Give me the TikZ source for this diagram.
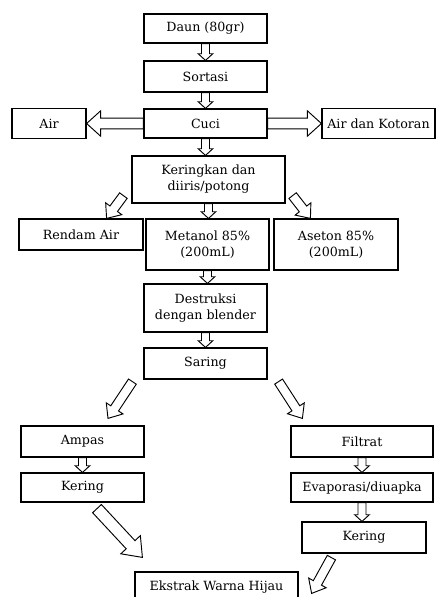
\documentclass[tikz,border=0pt]{standalone}
\usepackage{fontspec}
\setmainfont{DejaVu Serif}
\usetikzlibrary{calc}

\begin{document}
\begin{tikzpicture}[x=0.75pt, y=-0.75pt,
  box/.style={draw, line width=0.9pt, minimum width=92.25pt, minimum height=23.25pt,
              inner sep=1pt, align=center, font=\fontsize{9.5}{12}\selectfont},
  blk/.style n args={3}{draw, line width=0.7pt, fill=white, to path={
      let \p1=($(\tikztotarget)!#3!(\tikztostart)$) in
      ($(\tikztostart)!#1!90:(\tikztotarget)$) -- ($(\p1)!#1!90:(\tikztotarget)$)
      -- ($(\p1)!#2!90:(\tikztotarget)$) -- (\tikztotarget)
      -- ($(\p1)!#2!-90:(\tikztotarget)$) -- ($(\p1)!#1!-90:(\tikztotarget)$)
      -- ($(\tikztostart)!#1!-90:(\tikztotarget)$) -- cycle}},
  varr/.style={blk={3pt}{5.5pt}{5pt}},
  harr/.style={blk={4pt}{9.5pt}{10.5pt}},
  darr/.style={blk={3.5pt}{7.5pt}{9pt}},
  barr/.style={blk={4.5pt}{10pt}{13pt}}]
\useasboundingbox (0,0) rectangle (436,597);
% main column
\node[box, minimum height=21.75pt] (daun) at (205.5,28.5) {Daun (80gr)};
\node[box] (sort) at (205.5,76.5) {Sortasi};
\node[box, minimum height=21.75pt] (cuci) at (205.5,123.5) {Cuci};
\node[box, minimum width=55.5pt, minimum height=22.5pt] (air) at (49,123.5) {Air};
\node[box, minimum width=84.75pt, minimum height=22.5pt] (kotor) at (378.5,123.5) {Air dan Kotoran};
\node[box, minimum width=114.75pt, minimum height=35.25pt] (kering) at (208.5,179.5) {Keringkan dan\\ diiris/potong};
\node[box, minimum width=93pt] (rendam) at (81,234.5) {Rendam Air};
\node[box, minimum height=38.25pt] (metanol) at (207.5,244.5) {Metanol 85\%\\ (200mL)};
\node[box, minimum width=93pt, minimum height=38.25pt] (aseton) at (336,244.5) {Aseton 85\%\\ (200mL)};
\node[box, minimum height=36pt] (destr) at (205.5,308) {Destruksi\\ dengan blender};
\node[box] (saring) at (205.5,363.5) {Saring};
% two branches
\node[box] (ampas) at (82.5,441.5) {Ampas};
\node[box, minimum height=21.75pt] (keringl) at (82.5,487.5) {Kering};
\node[box, minimum width=106.5pt] (filtrat) at (362,441.5) {Filtrat};
\node[box, minimum width=106.5pt, minimum height=21.75pt] (evap) at (362,487.5) {Evaporasi/diuapka};
\node[box, minimum width=93pt] (keringr) at (364,537.5) {Kering};
\node[box, minimum width=122.25pt] (ekstrak) at (216.5,587.5) {Ekstrak Warna Hijau};
% free ends of the slanted arrows
\coordinate (kr1) at ($(kering.south west)+(-8,-8)$);
\coordinate (kr2) at ($(rendam.north east)+(-37,0)$);
\coordinate (ka1) at ($(kering.south east)+(7,-8)$);
\coordinate (ka2) at ($(aseton.north west)+(37,0)$);
\coordinate (sa1) at ($(saring.south west)+(-11,2)$);
\coordinate (sa2) at ($(ampas.north)+(25.5,-7)$);
\coordinate (sf1) at ($(saring.south east)+(11,2)$);
\coordinate (sf2) at ($(filtrat.north west)+(12,-7)$);
\coordinate (ke1) at ($(keringl.south)+(14.5,6)$);
\coordinate (ke2) at ($(ekstrak.north west)+(8,-14)$);
\coordinate (ke3) at ($(keringr.south west)+(30,4)$);
\coordinate (ke4) at ($(ekstrak.north east)+(13,22)$);
% arrows
\draw[varr] (daun.south) to (sort.north);
\draw[varr] (sort.south) to (cuci.north);
\draw[harr] (cuci.west) to (cuci.west -| air.east);
\draw[harr] (cuci.east) to (cuci.east -| kotor.west);
\draw[varr] (cuci.south) to (cuci.south |- kering.north);
\draw[darr] (kr1) to (kr2);
\draw[varr] (kering.south) to (kering.south |- metanol.north);
\draw[darr] (ka1) to (ka2);
\draw[varr] (metanol.south) to (metanol.south |- destr.north);
\draw[varr] (destr.south) to (saring.north);
\draw[darr] (sa1) to (sa2);
\draw[darr] (sf1) to (sf2);
\draw[varr] (ampas.south) to (keringl.north);
\draw[varr] (filtrat.south) to (evap.north);
\draw[varr] (evap.south) to (evap.south |- keringr.north);
\draw[barr] (ke1) to (ke2);
\draw[darr] (ke3) to (ke4);
\end{tikzpicture}
\end{document}
